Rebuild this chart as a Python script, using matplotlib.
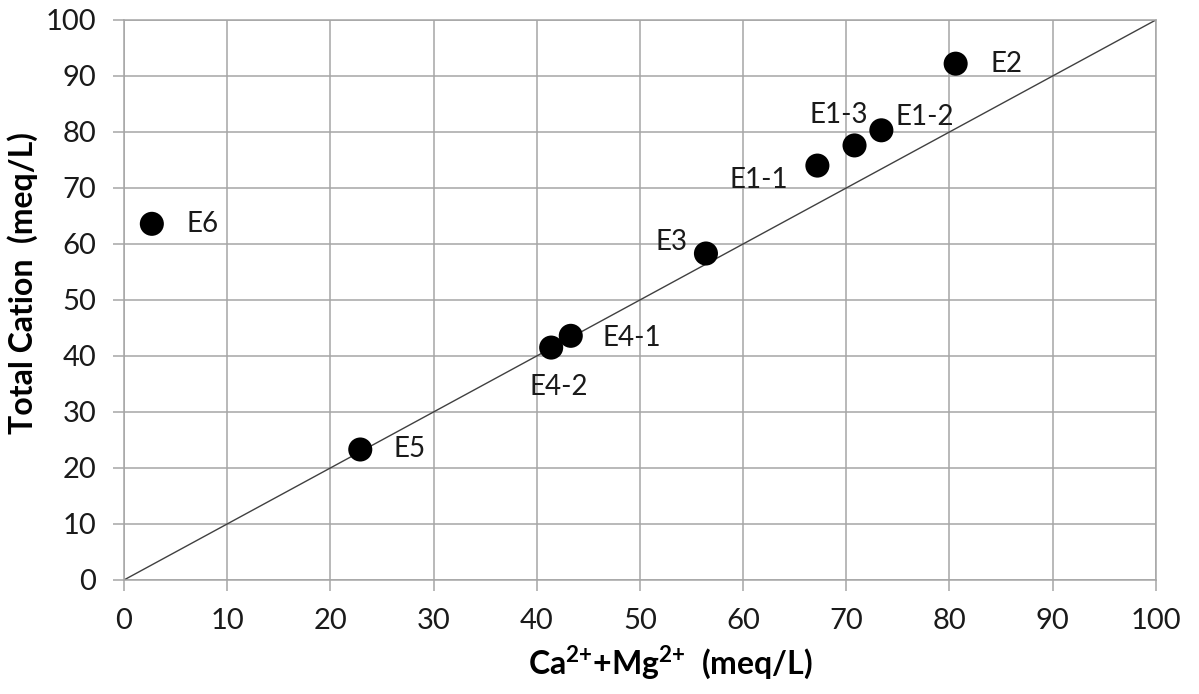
import numpy as np
import matplotlib
matplotlib.use("Agg")
import matplotlib.pyplot as plt

plt.rcParams['font.family'] = ['Lato', 'DejaVu Sans']
plt.rcParams['mathtext.fontset'] = 'custom'
plt.rcParams['mathtext.rm'] = 'Lato'
plt.rcParams['mathtext.bf'] = 'Lato:bold'

# sample values
names = ["E6", "E5", "E4-2", "E4-1", "E3", "E1-1", "E1-3", "E1-2", "E2"]
ca_mg = [2.7, 22.9, 41.4, 43.3, 56.4, 67.2, 70.8, 73.4, 80.6]
total_cation = [63.6, 23.3, 41.5, 43.6, 58.3, 74.0, 77.6, 80.3, 92.2]

# label offsets in pixels (dx, dy, ha, va)
label_pos = {
    "E6": (35, 0, 'left', 'center'),
    "E5": (33, 0, 'left', 'center'),
    "E4-2": (8, -39, 'center', 'center'),
    "E4-1": (32, -2, 'left', 'center'),
    "E3": (-18, 12, 'right', 'center'),
    "E1-1": (-29, -14, 'right', 'center'),
    "E1-3": (-16, 30, 'center', 'center'),
    "E1-2": (14, 13, 'left', 'center'),
    "E2": (35, 0, 'left', 'center'),
}

grid_col = '#a6a6a6'
text_col = '#1a1a1a'

fig = plt.figure(figsize=(11.99, 6.94), dpi=100)
ax = fig.add_axes([0.1034, 0.1643, 0.964 - 0.1034, 0.9712 - 0.1643])

ax.plot([0, 100], [0, 100], color='#404040', lw=1.0, zorder=2)
ax.scatter(ca_mg, total_cation, s=300, color='black', zorder=3, edgecolors='none')

for n, x, y in zip(names, ca_mg, total_cation):
    dx, dy, ha, va = label_pos[n]
    ax.annotate(n, (x, y), xytext=(dx, dy), textcoords='offset pixels',
                ha=ha, va=va, fontsize=20, color=text_col)

ax.set_xlim(0, 100)
ax.set_ylim(0, 100)
ax.set_xticks(np.arange(0, 101, 10))
ax.set_yticks(np.arange(0, 101, 10))
ax.grid(True, color=grid_col, lw=1.1, zorder=0)
ax.set_axisbelow(True)
for s in ax.spines.values():
    s.set_color(grid_col)
    s.set_linewidth(1.1)
ax.tick_params(axis='both', direction='out', length=8, width=1.1, color=grid_col,
               labelsize=21, labelcolor=text_col)
ax.tick_params(axis='x', pad=12)
ax.tick_params(axis='y', pad=12)

ax.set_xlabel(r"Ca$^{\mathbf{2{+}}}$+Mg$^{\mathbf{2{+}}}$  (meq/L)", fontsize=23,
              fontweight='bold', color='black')
ax.set_ylabel("Total Cation  (meq/L)", fontsize=23, fontweight='bold',
              color='black')
ax.xaxis.set_label_coords(0.53, -0.115)
ax.yaxis.set_label_coords(-0.083, 0.53)

fig.savefig("out.png", dpi=100)
